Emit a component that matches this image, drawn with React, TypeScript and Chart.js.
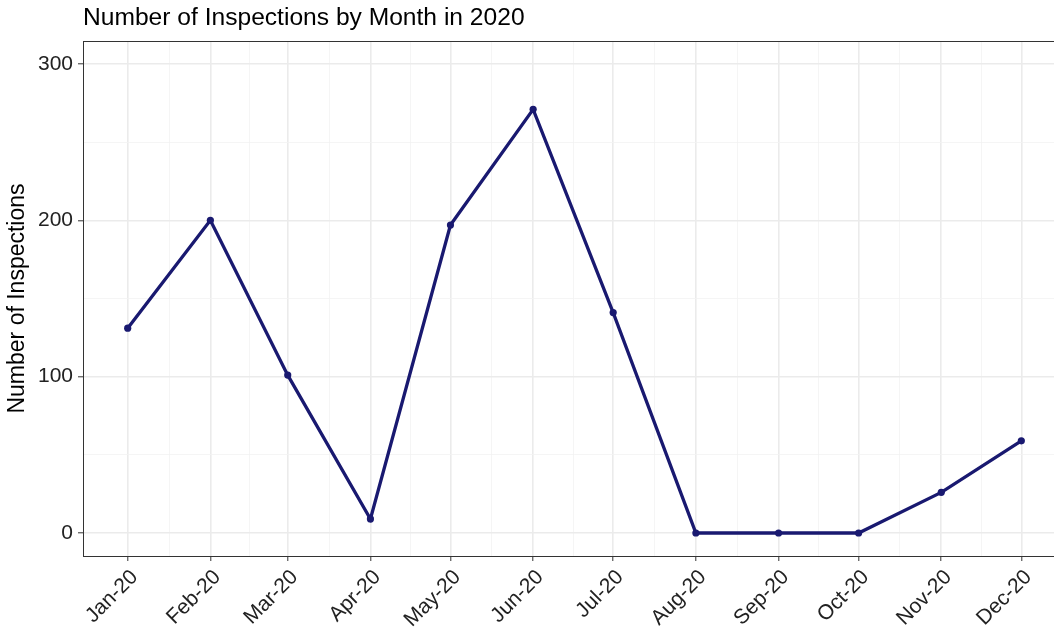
import React, { useEffect, useRef } from "react";
import { Chart, registerables } from "chart.js";

Chart.register(...registerables);

// ---- data ----
const monthDates = [
  "2020-01-01", "2020-02-01", "2020-03-01", "2020-04-01",
  "2020-05-01", "2020-06-01", "2020-07-01", "2020-08-01",
  "2020-09-01", "2020-10-01", "2020-11-01", "2020-12-01",
];
const monthLabels = [
  "Jan-20", "Feb-20", "Mar-20", "Apr-20", "May-20", "Jun-20",
  "Jul-20", "Aug-20", "Sep-20", "Oct-20", "Nov-20", "Dec-20",
];
const inspections = [131, 200, 101, 9, 197, 271, 141, 0, 0, 0, 26, 59];
const yMajorTicks = [0, 100, 200, 300];
const yMinorTicks = [50, 150, 250];
const yMin = -14.7;
const yMax = 314.7;

const titleText = "Number of Inspections by Month in 2020";
const yTitleText = "Number of Inspections";

// ---- derived ----
const DAY = 86400000;
const t0 = Date.parse(monthDates[0]);
const dayOffsets = monthDates.map((d) => Math.round((Date.parse(d) - t0) / DAY));
const xMinorTicks = dayOffsets.slice(1).map((d, i) => (d + dayOffsets[i]) / 2);
const xSpan = dayOffsets[dayOffsets.length - 1] - dayOffsets[0];
const xMin = dayOffsets[0] - xSpan * 0.05;
const xMax = dayOffsets[dayOffsets.length - 1] + xSpan * 0.05;

const FONT = "'Liberation Sans', Arial, Helvetica, sans-serif";
const LINE = "#191970";

const borderPlugin = {
  id: "panelBorder",
  afterDraw(chart: any) {
    const { ctx, chartArea } = chart;
    ctx.save();
    ctx.strokeStyle = "#333333";
    ctx.lineWidth = 1;
    ctx.strokeRect(
      Math.round(chartArea.left) + 0.5,
      Math.round(chartArea.top) + 0.5,
      Math.round(chartArea.right - chartArea.left),
      Math.round(chartArea.bottom - chartArea.top)
    );
    ctx.restore();
  },
};

export default function App() {
  const ref = useRef<HTMLCanvasElement | null>(null);

  useEffect(() => {
    if (!ref.current) return;
    const isXMajor = (v: number) => dayOffsets.indexOf(v) >= 0;
    const isYMajor = (v: number) => yMajorTicks.indexOf(v) >= 0;

    const chart = new Chart(ref.current, {
      type: "line",
      data: {
        datasets: [
          {
            data: dayOffsets.map((x, i) => ({ x, y: inspections[i] })),
            borderColor: LINE,
            backgroundColor: LINE,
            borderWidth: 3.3,
            pointRadius: 3.6,
            pointBorderWidth: 0,
            pointBackgroundColor: LINE,
            tension: 0,
            fill: false,
          },
        ],
      },
      options: {
        responsive: false,
        animation: false,
        devicePixelRatio: 1,
        layout: { padding: 0 },
        plugins: {
          legend: { display: false },
          tooltip: { enabled: false },
          title: {
            display: true,
            text: titleText,
            align: "start",
            fullSize: false,
            color: "#000000",
            font: { family: FONT, size: 24.6, weight: "normal", lineHeight: 1.2 },
            padding: { top: 3.4, bottom: 8.1 },
          },
        },
        scales: {
          x: {
            type: "linear",
            min: xMin,
            max: xMax,
            afterBuildTicks: (scale: any) => {
              scale.ticks = [...dayOffsets, ...xMinorTicks]
                .sort((a, b) => a - b)
                .map((v) => ({ value: v }));
            },
            afterFit: (scale: any) => {
              scale.height = 74;
              scale.paddingLeft = 0;
              scale.paddingRight = 0;
            },
            border: { display: false },
            grid: {
              drawTicks: true,
              tickLength: 5,
              tickWidth: 1,
              color: (c: any) => (isXMajor(c.tick?.value) ? "#EBEBEB" : "#F3F3F3"),
              lineWidth: (c: any) => (isXMajor(c.tick?.value) ? 1.6 : 0.8),
              tickColor: (c: any) =>
                isXMajor(c.tick?.value) ? "#333333" : "rgba(0,0,0,0)",
            },
            ticks: {
              autoSkip: false,
              minRotation: 45,
              maxRotation: 45,
              padding: 4,
              labelOffset: 7,
              color: "#222222",
              font: { family: FONT, size: 21 },
              callback: (v: any) => {
                const i = dayOffsets.indexOf(Number(v));
                return i >= 0 ? monthLabels[i] : "";
              },
            },
          },
          y: {
            type: "linear",
            min: yMin,
            max: yMax,
            afterBuildTicks: (scale: any) => {
              scale.ticks = [...yMajorTicks, ...yMinorTicks]
                .sort((a, b) => a - b)
                .map((v) => ({ value: v }));
            },
            afterFit: (scale: any) => {
              scale.width = 83;
              scale.paddingTop = 0;
              scale.paddingBottom = 0;
            },
            border: { display: false },
            grid: {
              drawTicks: true,
              tickLength: 5,
              tickWidth: 1,
              color: (c: any) => (isYMajor(c.tick?.value) ? "#EBEBEB" : "#F3F3F3"),
              lineWidth: (c: any) => (isYMajor(c.tick?.value) ? 1.6 : 0.8),
              tickColor: (c: any) =>
                isYMajor(c.tick?.value) ? "#333333" : "rgba(0,0,0,0)",
            },
            ticks: {
              autoSkip: false,
              padding: 5,
              color: "#222222",
              font: { family: FONT, size: 21 },
              callback: (v: any) => (isYMajor(Number(v)) ? String(v) : ""),
            },
            title: {
              display: true,
              text: yTitleText,
              color: "#000000",
              font: { family: FONT, size: 23, lineHeight: 1.2 },
              padding: { top: 4, bottom: 0 },
            },
          },
        },
      },
      plugins: [borderPlugin],
    } as any);

    return () => chart.destroy();
  }, []);

  return (
    <div
      style={{
        position: "absolute",
        left: 0,
        top: 0,
        width: 1054,
        height: 630,
        overflow: "hidden",
        background: "#ffffff",
      }}
    >
      <canvas ref={ref} width={1070} height={630} style={{ display: "block" }} />
    </div>
  );
}
